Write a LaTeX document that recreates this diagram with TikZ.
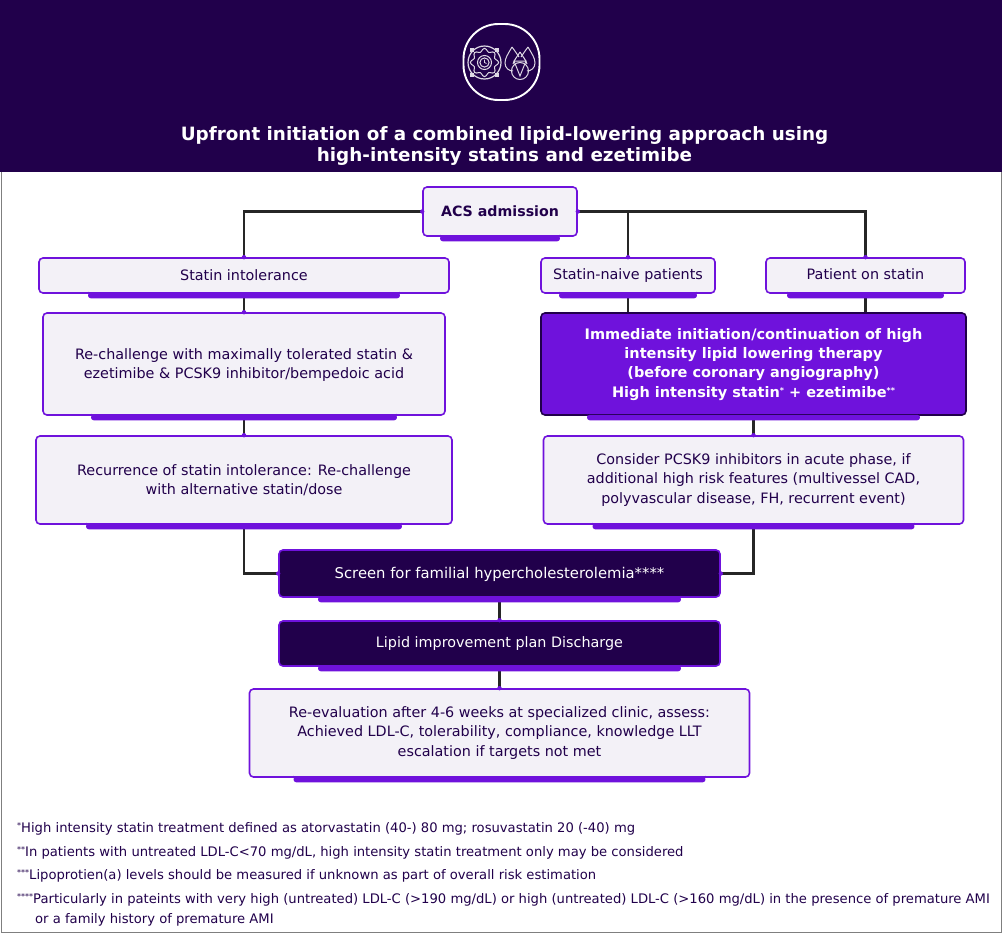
\documentclass[tikz,border=0pt]{standalone}
\usepackage{fontspec}
\setmainfont{DejaVu Sans}
\usetikzlibrary{calc,arrows.meta}
\definecolor{deep}{HTML}{21004B}
\definecolor{violet}{HTML}{6F12DC}
\definecolor{pale}{HTML}{F3F1F7}
\definecolor{framegrey}{HTML}{7F7F7F}
\newcommand{\starsup}[1]{\raisebox{0.28em}{\fontsize{8}{8}\selectfont #1}}
\tikzset{
  x=1pt,y=-1pt,
  flowbox/.style={draw=violet,line width=1.6pt,fill=pale,rounded corners=4pt,text=deep,align=center,inner sep=0pt,font=\fontsize{14.35}{19.4}\selectfont},
  darkbox/.style={flowbox,fill=deep,text=white},
  mainbox/.style={flowbox,fill=violet,draw=deep,text=white,font=\fontsize{14.5}{19.4}\selectfont\bfseries},
  link/.style={draw=black!85,line width=2.1pt},
  shade bar/.style={fill=violet,rounded corners=2.5pt},
  jointdot/.style={fill=violet},
  foot/.style={anchor=base west,text=deep,inner sep=0pt,font=\fontsize{13.15}{14}\selectfont},
  iconline/.style={draw=white!85!deep,line width=1pt}
}
\begin{document}
\begin{tikzpicture}
\useasboundingbox (0,0) rectangle (1005,935);
\fill[white] (0,0) rectangle (1005,935);
\fill[deep] (0,0) rectangle (1002,172);
\draw[framegrey,line width=1.2pt] (1.5,172) -- (1.5,932.5) -- (1001.5,932.5) -- (1001.5,172);
% icon
\draw[white,line width=1.9pt,rounded corners=35pt] (463.5,24) rectangle (539.5,100);
\begin{scope}[iconline]
  \draw (484.5,62.5) circle (7);
  \draw (484.5,62.5) circle (4.6);
  \draw[line width=0.7pt] (484.5,59.5) -- (484.5,62.5) -- (486.5,63.5);
  \draw plot[smooth cycle,samples=48,domain=0:352.5,variable=\t] ({484.5+(12.5+1.6*cos(8*\t))*cos(\t)},{62.5+(12.5+1.6*cos(8*\t))*sin(\t)});
  \draw[line width=1.2pt] (484.5,62.5) circle (16.5);
  \foreach \a in {45,135,225,315}{
    \fill[white!85!deep] ({484.5+17.5*cos(\a)-2.2},{62.5+17.5*sin(\a)-2.2}) rectangle ++(4.4,4.4);
  }
  \draw (512,47) .. controls (508,54) and (505,58) .. (505,63) .. controls (505,68) and (509,71) .. (513,71);
  \draw (512,47) .. controls (515,51) and (517,54) .. (519,57);
  \draw (528,47) .. controls (532,54) and (535,58) .. (535,63) .. controls (535,68) and (531,71) .. (527,71);
  \draw (528,47) .. controls (525,51) and (523,54) .. (521,57);
  \draw (520,52) .. controls (517,57) and (514,60) .. (513,64);
  \draw (520,52) .. controls (523,57) and (526,60) .. (527,64);
  \draw (520,71) circle (8.5);
  \draw (514,61) -- (526,61) -- (520,76) -- cycle;
\end{scope}
% title
\node[name=titleblock,text=white,align=center,inner sep=0pt,font=\fontsize{18.35}{21.5}\selectfont\bfseries] at (504.5,146) {Upfront initiation of a combined lipid-lowering approach using\\high-intensity statins and ezetimibe};
% nodes
\node[flowbox,minimum width=154pt,minimum height=49pt,font=\fontsize{14.2}{19.4}\selectfont\bfseries] (acs) at (500,211.5) {ACS admission};
\node[flowbox,minimum width=410pt,minimum height=35pt] (si) at (244,275.5) {Statin intolerance};
\node[flowbox,minimum width=402pt,minimum height=102pt] (rc) at (244,364) {\rule{0pt}{13pt}Re-challenge with maximally tolerated statin \&\\ezetimibe \& PCSK9 inhibitor/bempedoic acid};
\node[flowbox,minimum width=416pt,minimum height=88pt] (rec) at (244,480) {Recurrence of statin intolerance: Re-challenge\\with alternative statin/dose};
\node[flowbox,minimum width=174pt,minimum height=35pt,text height=10.5pt,text depth=3.2pt] (naive) at (628,275.5) {Statin-naive patients};
\node[flowbox,minimum width=199pt,minimum height=35pt,text height=10.5pt,text depth=3.2pt] (onst) at (865.5,275.5) {Patient on statin};
\node[mainbox,minimum width=425pt,minimum height=102pt] (imm) at (753.5,364) {\rule{0pt}{11.5pt}Immediate initiation/continuation of high\\intensity lipid lowering therapy\\(before coronary angiography)\\High intensity statin\starsup{*} + ezetimibe\starsup{**}};
\node[flowbox,minimum width=420pt,minimum height=88pt] (cons) at (753.5,480) {Consider PCSK9 inhibitors in acute phase, if\\additional high risk features (multivessel CAD,\\polyvascular disease, FH, recurrent event)};
\node[darkbox,minimum width=441pt,minimum height=47pt,font=\fontsize{14.8}{19.4}\selectfont,text height=10.8pt,text depth=1.2pt] (screen) at (499.5,573.5) {Screen for familial hypercholesterolemia****};
\node[darkbox,minimum width=441pt,minimum height=45pt] (lipid) at (499.5,643.5) {Lipid improvement plan Discharge};
\node[flowbox,minimum width=500pt,minimum height=88pt] (reev) at (499.5,733) {Re-evaluation after 4-6 weeks at specialized clinic, assess:\\Achieved LDL-C, tolerability, compliance, knowledge LLT\\escalation if targets not met};
% connectors
\draw[link] (acs.west) -| (si.north);
\draw[link] (acs.east) -| (naive.north);
\draw[link] (acs.east) -| (onst.north);
\draw[link] (si.south) -- (rc.north);
\draw[link] (rc.south) -- (rec.north);
\draw[link] (naive.south) -- (naive.south |- imm.north);
\draw[link] (onst.south) -- (onst.south |- imm.north);
\draw[link] (imm.south) -- (cons.north);
\draw[link] (rec.south) |- (screen.west);
\draw[link] (cons.south) |- (screen.east);
\draw[link] (screen.south) -- (lipid.north);
\draw[link] (lipid.south) -- (reev.north);
% under-bars
\foreach \n/\ins in {acs/18,si/50,rc/49,rec/51,naive/19,onst/22,imm/47,cons/50,screen/40,lipid/40,reev/45}{
  \fill[shade bar] ($(\n.south west)+(\ins,-1)$) -- ($(\n.south west)+(\ins,0)$) -- ($(\n.south west)+(\ins,4.5)$) -- ($(\n.south east)+(-\ins,4.5)$) -- ($(\n.south east)+(-\ins,0)$) -- ($(\n.south east)+(-\ins,-1)$) -- cycle;
}
% joints
\foreach \p in {acs.west,acs.east,si.north,naive.north,onst.north,rc.north,rec.north,cons.north,screen.west,screen.east,lipid.north,reev.north}{
  \fill[jointdot] (\p) circle (2.2);
}
% footnotes
\node[foot] (f1) at (17,832.5) {\starsup{*}High intensity statin treatment defined as atorvastatin (40-) 80 mg; rosuvastatin 20 (-40) mg};
\node[foot] (f2) at (17,856) {\starsup{**}In patients with untreated LDL-C<70 mg/dL, high intensity statin treatment only may be considered};
\node[foot] (f3) at (17,879.5) {\starsup{***}Lipoprotien(a) levels should be measured if unknown as part of overall risk estimation};
\node[foot] (f4) at (17,903) {\starsup{****}Particularly in pateints with very high (untreated) LDL-C (>190 mg/dL) or high (untreated) LDL-C (>160 mg/dL) in the presence of premature AMI};
\node[foot] (f5) at (35,923) {or a family history of premature AMI};
\end{tikzpicture}
\end{document}
